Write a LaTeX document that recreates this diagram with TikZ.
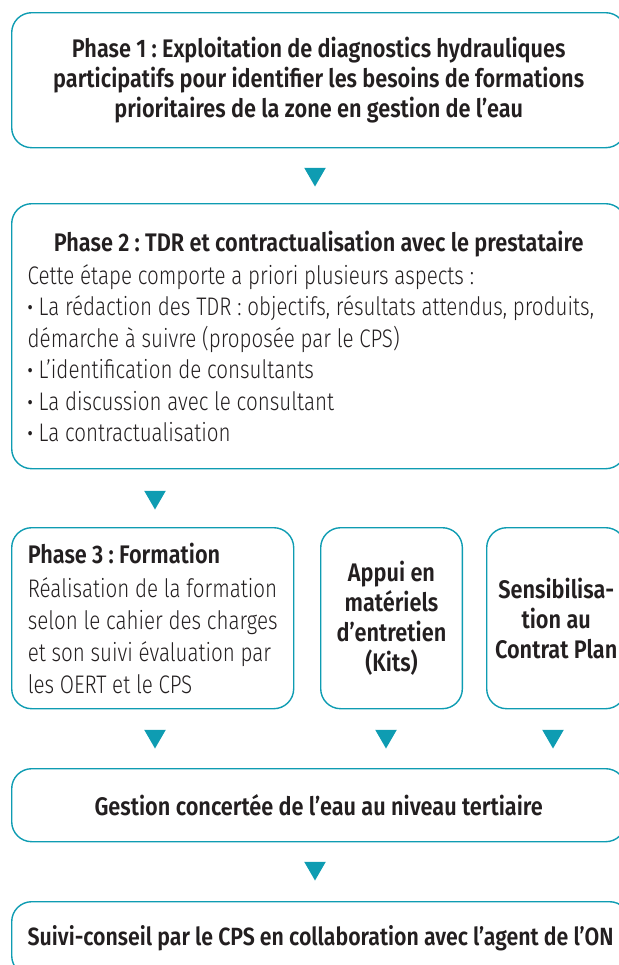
\documentclass[tikz,border=0pt]{standalone}
\usepackage{fontspec}
\setmainfont{Fira Sans}[UprightFont=* Light, BoldFont=* SemiBold,
  UprightFeatures={FakeStretch=0.81}, BoldFeatures={FakeStretch=0.855}]
\usetikzlibrary{shapes.geometric}

\definecolor{eau}{RGB}{14,156,178}
\definecolor{encre}{RGB}{35,31,32}

\newcommand{\puce}{{\bfseries ·}}
\frenchspacing

\begin{document}
\begin{tikzpicture}[x=1bp, y=-1bp,
    font=\fontsize{25.5}{31.5}\selectfont,
    etape/.style={draw=eau, line width=1.4bp, rounded corners=20bp, anchor=north west,
      inner xsep=16bp, inner ysep=0pt, text=encre},
    titre/.style={font=\fontsize{#1}{30}\selectfont\bfseries},
    fleche/.style={regular polygon, regular polygon sides=3, shape border rotate=180,
      fill=eau, minimum size=25bp, inner sep=0pt}]
  \useasboundingbox (0,0) rectangle (619,965);

  % phase 1
  \node [etape, titre=25.5, minimum width=614bp, minimum height=135bp, align=center]
    (phase1) at (11,12) {Phase 1 : Exploitation de diagnostics hydrauliques\\
    participatifs pour identifier les besoins de formations\\
    prioritaires de la zone en gestion de l’eau};
  \node [fleche] (t1) at (315,174) {};

  % phase 2
  \node [etape, minimum height=265bp, text width=582bp, align=flush left]
    (phase2) at (11,203) {\makebox[\linewidth]{\bfseries Phase 2 : TDR et contractualisation avec le prestataire}\\[2bp]
    Cette étape comporte a priori plusieurs aspects :\\
    \puce{} La rédaction des TDR : objectifs, résultats attendus, produits,\\
    démarche à suivre (proposée par le CPS)\\
    \puce{} L’identification de consultants\\
    \puce{} La discussion avec le consultant\\
    \puce{} La contractualisation};
  \node [fleche] (t2) at (155,497) {};

  % phase 3 et les deux appuis
  \node [etape, minimum width=282bp, minimum height=181bp, inner xsep=14bp, align=flush left,
    font=\fontsize{25.5}{32}\selectfont]
    (phase3) at (11,527) {{\bfseries Phase 3 : Formation}\\[3bp]
    Réalisation de la formation\\
    selon le cahier des charges\\
    et son suivi évaluation par\\
    les OERT et le CPS};
  \node [etape, titre=25.5, minimum width=141bp, minimum height=181bp, align=center]
    (kits) at (320,527) {Appui en\\matériels\\d’entretien\\(Kits)};
  \node [etape, titre=25.5, minimum width=139bp, minimum height=181bp, inner xsep=4bp, align=center]
    (sensib) at (486,527) {Sensibilisa-\\tion au\\Contrat Plan};
  \node [fleche] (t3) at (155,736) {};
  \node [fleche] (t4) at (386,736) {};
  \node [fleche] (t5) at (553,736) {};

  % gestion de l'eau
  \node [etape, titre=25.5, minimum width=614bp, minimum height=73bp, align=center]
    (gestion) at (11,768) {Gestion concertée de l’eau au niveau tertiaire};
  \node [fleche] (t6) at (315,868) {};

  % suivi
  \node [etape, titre=25, minimum width=614bp, minimum height=74bp, align=center]
    (suivi) at (11,901) {Suivi-conseil par le CPS en collaboration avec l’agent de l’ON};
\end{tikzpicture}
\end{document}
